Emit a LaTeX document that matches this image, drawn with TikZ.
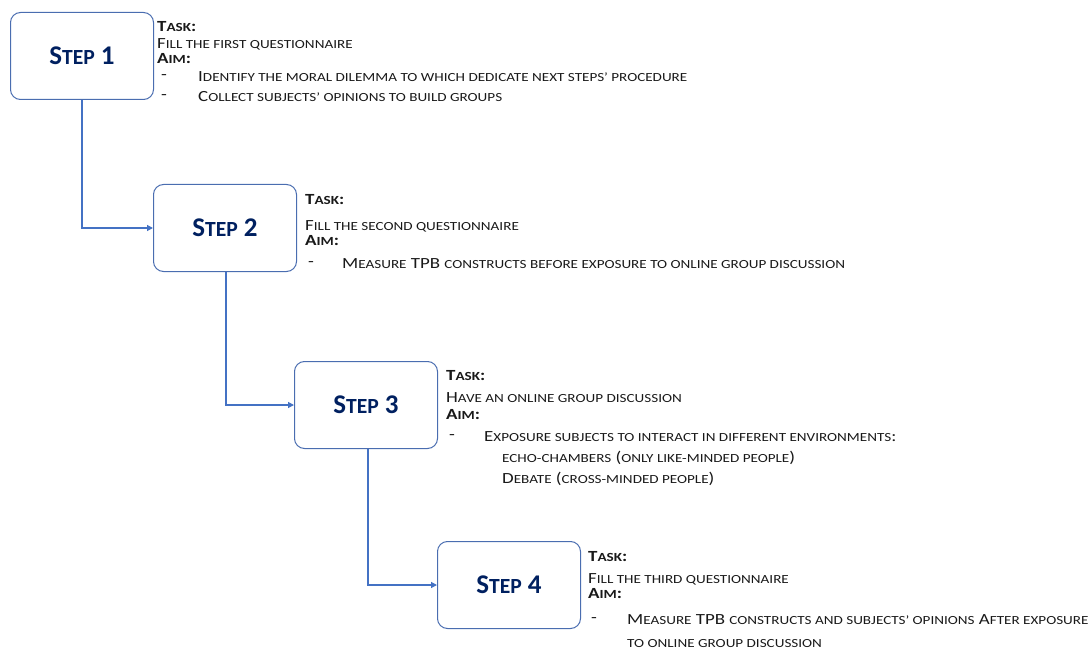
\documentclass[tikz,border=0pt]{standalone}
\usepackage{fontspec}
\setmainfont{Carlito}
\usetikzlibrary{arrows.meta}
\definecolor{boxline}{HTML}{4A6DB0}
\definecolor{conn}{HTML}{4472C4}
\definecolor{navy}{HTML}{002060}
\newcommand\smc[1]{{\fontsize{12.4pt}{13pt}\selectfont #1}}
\newcommand\bigsmc[1]{{\fontsize{21.6pt}{22pt}\selectfont #1}}
\newcommand\tx[1]{\scalebox{1.22}[1]{#1}}
\tikzset{
  stepbox/.style={draw=boxline, line width=1pt, rounded corners=10pt, minimum width=143pt, minimum height=87pt, anchor=north west, inner sep=0pt, font=\fontsize{27pt}{28pt}\selectfont\bfseries, text=navy},
  txt/.style={anchor=west, inner sep=0pt, font=\fontsize{15.5pt}{16pt}\selectfont, text=black!90},
  conn/.style={draw=conn, line width=1.2pt, -{Triangle[length=6pt,width=6pt]}}
}
\begin{document}
\begin{tikzpicture}[x=1pt,y=-1pt]
\useasboundingbox (0,0) rectangle (1092,655);
% boxes
\node[stepbox] (s1) at (10,12) {S\bigsmc{TEP} 1};
\node[stepbox] (s2) at (153,184) {S\bigsmc{TEP} 2};
\node[stepbox] (s3) at (294,361) {S\bigsmc{TEP} 3};
\node[stepbox] (s4) at (437,541) {S\bigsmc{TEP} 4};
% connectors
\draw[conn] (s1.south -| 82,0) |- (s2.west);
\draw[conn] (s2.south -| 226,0) |- (s3.west);
\draw[conn] (s3.south -| 368,0) |- (s4.west);
% group 1
\node[txt] (t1a) at (157,27) {\tx{\textbf{T\smc{ASK}:}}};
\node[txt] (t1b) at (157,44) {\tx{F\smc{ILL THE FIRST QUESTIONNAIRE}}};
\node[txt] (t1c) at (157,59) {\tx{\textbf{A\smc{IM}:}}};
\node[txt] (t1d) at (161,77) {\tx{-}};
\node[txt] (t1e) at (198,77) {\tx{I\smc{DENTIFY THE MORAL DILEMMA TO WHICH DEDICATE NEXT STEPS’ PROCEDURE}}};
\node[txt] (t1f) at (161,97) {\tx{-}};
\node[txt] (t1g) at (198,97) {\tx{C\smc{OLLECT SUBJECTS’ OPINIONS TO BUILD GROUPS}}};
% group 2
\node[txt] (t2a) at (305,200) {\tx{\textbf{T\smc{ASK}:}}};
\node[txt] (t2b) at (305,226) {\tx{F\smc{ILL THE SECOND QUESTIONNAIRE}}};
\node[txt] (t2c) at (305,241) {\tx{\textbf{A\smc{IM}:}}};
\node[txt] (t2d) at (308,264) {\tx{-}};
\node[txt] (t2e) at (342,264) {\tx{M\smc{EASURE} TPB \smc{CONSTRUCTS BEFORE EXPOSURE TO ONLINE GROUP DISCUSSION}}};
% group 3
\node[txt] (t3a) at (446,376) {\tx{\textbf{T\smc{ASK}:}}};
\node[txt] (t3b) at (446,398) {\tx{H\smc{AVE AN ONLINE GROUP DISCUSSION}}};
\node[txt] (t3c) at (446,415) {\tx{\textbf{A\smc{IM}:}}};
\node[txt] (t3d) at (449,437) {\tx{-}};
\node[txt] (t3e) at (484,437) {\tx{E\smc{XPOSURE SUBJECTS TO INTERACT IN DIFFERENT ENVIRONMENTS}:}};
\node[txt] (t3f) at (502,458) {\tx{\smc{ECHO-CHAMBERS} (\smc{ONLY LIKE-MINDED PEOPLE})}};
\node[txt] (t3g) at (502,479) {\tx{D\smc{EBATE} (\smc{CROSS-MINDED PEOPLE})}};
% group 4
\node[txt] (t4a) at (588,557) {\tx{\textbf{T\smc{ASK}:}}};
\node[txt] (t4b) at (588,579) {\tx{F\smc{ILL THE THIRD QUESTIONNAIRE}}};
\node[txt] (t4c) at (588,594) {\tx{\textbf{A\smc{IM}:}}};
\node[txt] (t4d) at (591,620) {\tx{-}};
\node[txt] (t4e) at (627,620) {\tx{M\smc{EASURE} TPB \smc{CONSTRUCTS AND SUBJECTS’ OPINIONS} A\smc{FTER EXPOSURE}}};
\node[txt] (t4f) at (627,644) {\tx{\smc{TO ONLINE GROUP DISCUSSION}}};
\end{tikzpicture}
\end{document}
